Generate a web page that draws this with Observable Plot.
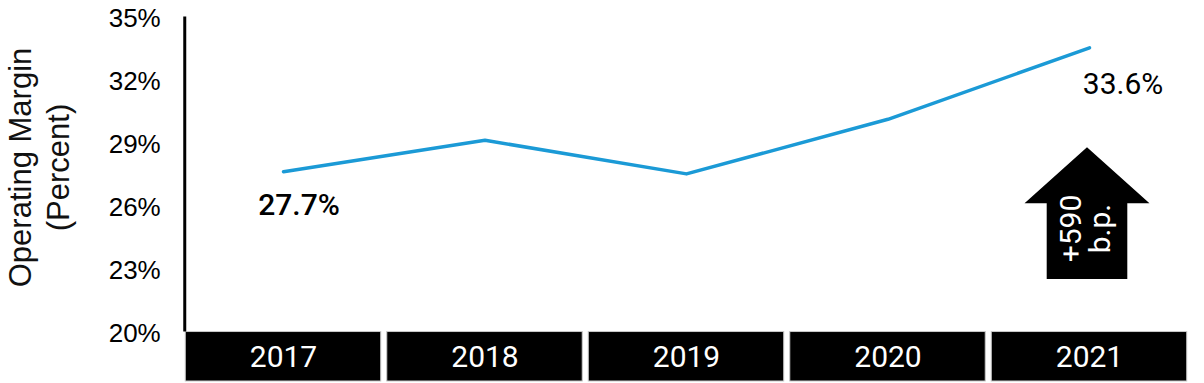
<!DOCTYPE html>
<html>
<head>
<meta charset="utf-8">
<script src="https://cdn.jsdelivr.net/npm/d3@7"></script>
<script src="https://cdn.jsdelivr.net/npm/@observablehq/plot@0.6"></script>
<style>
  html, body { margin: 0; padding: 0; background: #ffffff; }
  #chart svg { display: block; }
</style>
</head>
<body>
<div id="chart"></div>
<script>
// ---- data ----
const years = [2017, 2018, 2019, 2020, 2021];
const margins = [27.7, 29.2, 27.6, 30.2, 33.6];
const yTicks = [20, 23, 26, 29, 32, 35];
const yTitle = "Operating Margin\n(Percent)";
const changeLabel = "+590\nb.p.";
// arrow annotation (data units): base, neck, tip margin levels
const arrowYear = 2021;
const arrowBase = 22.6, arrowNeck = 26.2, arrowTip = 28.87;

const data = years.map((year, i) => ({year, margin: margins[i]}));
const first = data[0];
const last = data[data.length - 1];

const yMin = 17.714;
const shaftHalf = 0.2, headHalf = 0.31;
const arrowPts = [
  [arrowYear - shaftHalf, arrowBase],
  [arrowYear - shaftHalf, arrowNeck],
  [arrowYear - headHalf, arrowNeck],
  [arrowYear, arrowTip],
  [arrowYear + headHalf, arrowNeck],
  [arrowYear + shaftHalf, arrowNeck],
  [arrowYear + shaftHalf, arrowBase],
  [arrowYear - shaftHalf, arrowBase]
];

const chart = Plot.plot({
  width: 1204,
  height: 383,
  marginTop: 18,
  marginBottom: 2,
  marginLeft: 182.25,
  marginRight: 14.25,
  style: {background: "#ffffff", fontFamily: "Roboto, 'Liberation Sans', sans-serif", color: "#000"},
  x: {type: "linear", domain: [2016.5, 2021.5], axis: null},
  y: {domain: [yMin, 35], axis: null},
  marks: [
    // category boxes
    Plot.rect(years, {
      x1: d => d - 0.485, x2: d => d + 0.485,
      y1: yMin, y2: 20.07,
      fill: "#000", stroke: "#c8c8c8", strokeWidth: 1
    }),
    Plot.text(years, {
      x: d => d, frameAnchor: "bottom", lineAnchor: "middle", dy: -24.5,
      text: d => String(d), fill: "#fff", fontSize: 30, fontFamily: "Roboto"
    }),
    // y axis line
    Plot.ruleX([2016.5], {y1: 20.07, y2: 35.07, stroke: "#000", strokeWidth: 3, dx: 2}),
    Plot.axisY({
      ticks: yTicks, tickSize: 0, tickPadding: 22,
      tickFormat: d => d + "%", fontSize: 26, fontFamily: "'Liberation Sans', Arial, sans-serif",
      fill: "#000", label: null
    }),
    Plot.text([yTitle], {
      frameAnchor: "left", textAnchor: "middle", lineAnchor: "middle",
      rotate: -90, dx: -145.25, dy: -32.5,
      text: d => d, fontSize: 31, fontFamily: "'Liberation Sans', Arial, sans-serif",
      lineHeight: 1.23, fill: "#111"
    }),
    // line
    Plot.line(data, {x: "year", y: "margin", stroke: "#1b9ad6", strokeWidth: 3.5}),
    Plot.text([first], {
      x: "year", y: "margin", text: d => d.margin.toFixed(1) + "%",
      dx: 15.5, dy: 34, fontSize: 30, fontWeight: 500, fontFamily: "Roboto"
    }),
    Plot.text([last], {
      x: "year", y: "margin", text: d => d.margin.toFixed(1) + "%",
      dx: 33.5, dy: 36.6, fontSize: 30, fontFamily: "Roboto"
    }),
    // arrow annotation
    Plot.line(arrowPts, {x: d => d[0], y: d => d[1], fill: "#000", stroke: "none", dx: -2.5}),
    Plot.text([changeLabel], {
      x: arrowYear, y: 25, text: d => d, rotate: -90, dx: -3,
      fill: "#fff", fontSize: 30, lineHeight: 0.94, fontFamily: "Roboto"
    })
  ]
});
document.getElementById("chart").appendChild(chart);
</script>
</body>
</html>
